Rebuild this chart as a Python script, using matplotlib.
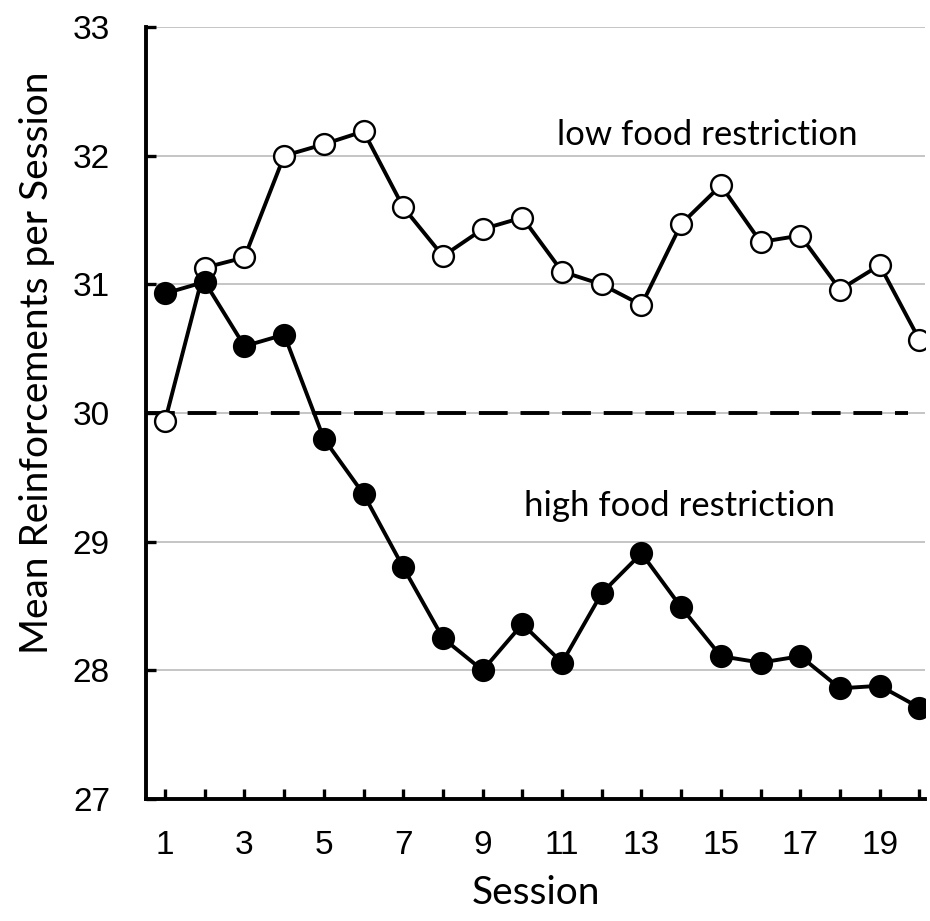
import matplotlib
matplotlib.use("Agg")
import matplotlib.pyplot as plt
import numpy as np

sessions = list(range(1, 21))
low_restriction = [29.94, 31.13, 31.21, 32.00, 32.09, 32.19, 31.60, 31.22, 31.43, 31.52,
                   31.10, 31.00, 30.84, 31.47, 31.77, 31.33, 31.38, 30.96, 31.15, 30.57]
high_restriction = [30.93, 31.02, 30.52, 30.61, 29.80, 29.37, 28.80, 28.25, 28.00, 28.36,
                    28.06, 28.60, 28.91, 28.49, 28.11, 28.06, 28.11, 27.86, 27.88, 27.71]
criterion = 30
y_ticks = [27, 28, 29, 30, 31, 32, 33]
x_labels = [str(s) if s % 2 == 1 else "" for s in sessions]

fig = plt.figure(figsize=(9.30, 9.21), dpi=100)
ax = fig.add_axes([0.157, 0.1325, 0.838, 0.838])

tick_font = ["Liberation Sans", "DejaVu Sans"]
label_font = ["Lato", "DejaVu Sans"]

for y in y_ticks[1:]:
    ax.axhline(y, color="#c0c0c0", lw=1.3, zorder=0)

ax.plot([0.52, 19.72], [criterion, criterion], color="black", lw=2.8,
        dashes=[7.4, 3.3], zorder=1)

ax.plot(sessions, low_restriction, color="black", lw=2.8, marker="o", ms=15,
        mfc="white", mec="black", mew=1.7, zorder=3)
ax.plot(sessions, high_restriction, color="black", lw=2.8, marker="o", ms=15,
        mfc="black", mec="black", mew=1.7, zorder=4)

ax.set_xlim(0.52, 20.15)
ax.set_ylim(27, 33)
ax.set_yticks(y_ticks)
ax.set_yticklabels([str(y) for y in y_ticks], fontsize=24, family=tick_font)
ax.set_xticks(sessions)
ax.set_xticklabels(x_labels, fontsize=24, family=tick_font)

for side in ["top", "right"]:
    ax.spines[side].set_visible(False)
for side in ["left", "bottom"]:
    ax.spines[side].set_linewidth(2.8)

ax.tick_params(axis="both", direction="in", length=7, width=2.4, color="black")
ax.tick_params(axis="x", pad=22)
ax.tick_params(axis="y", pad=26)

ax.set_xlabel("Session", fontsize=28, family=label_font)
ax.xaxis.set_label_coords(0.5, -0.098)
ax.xaxis.label.set_va("top")
ax.set_ylabel("Mean Reinforcements per Session", fontsize=28, family=label_font)
ax.yaxis.set_label_coords(-0.117, 0.565)

ax.text(14.65, 32.16, "low food restriction", fontsize=25, family=label_font,
        ha="center", va="center")
ax.text(13.95, 29.28, "high food restriction", fontsize=25, family=label_font,
        ha="center", va="center")

fig.savefig("out.png", dpi=100)
